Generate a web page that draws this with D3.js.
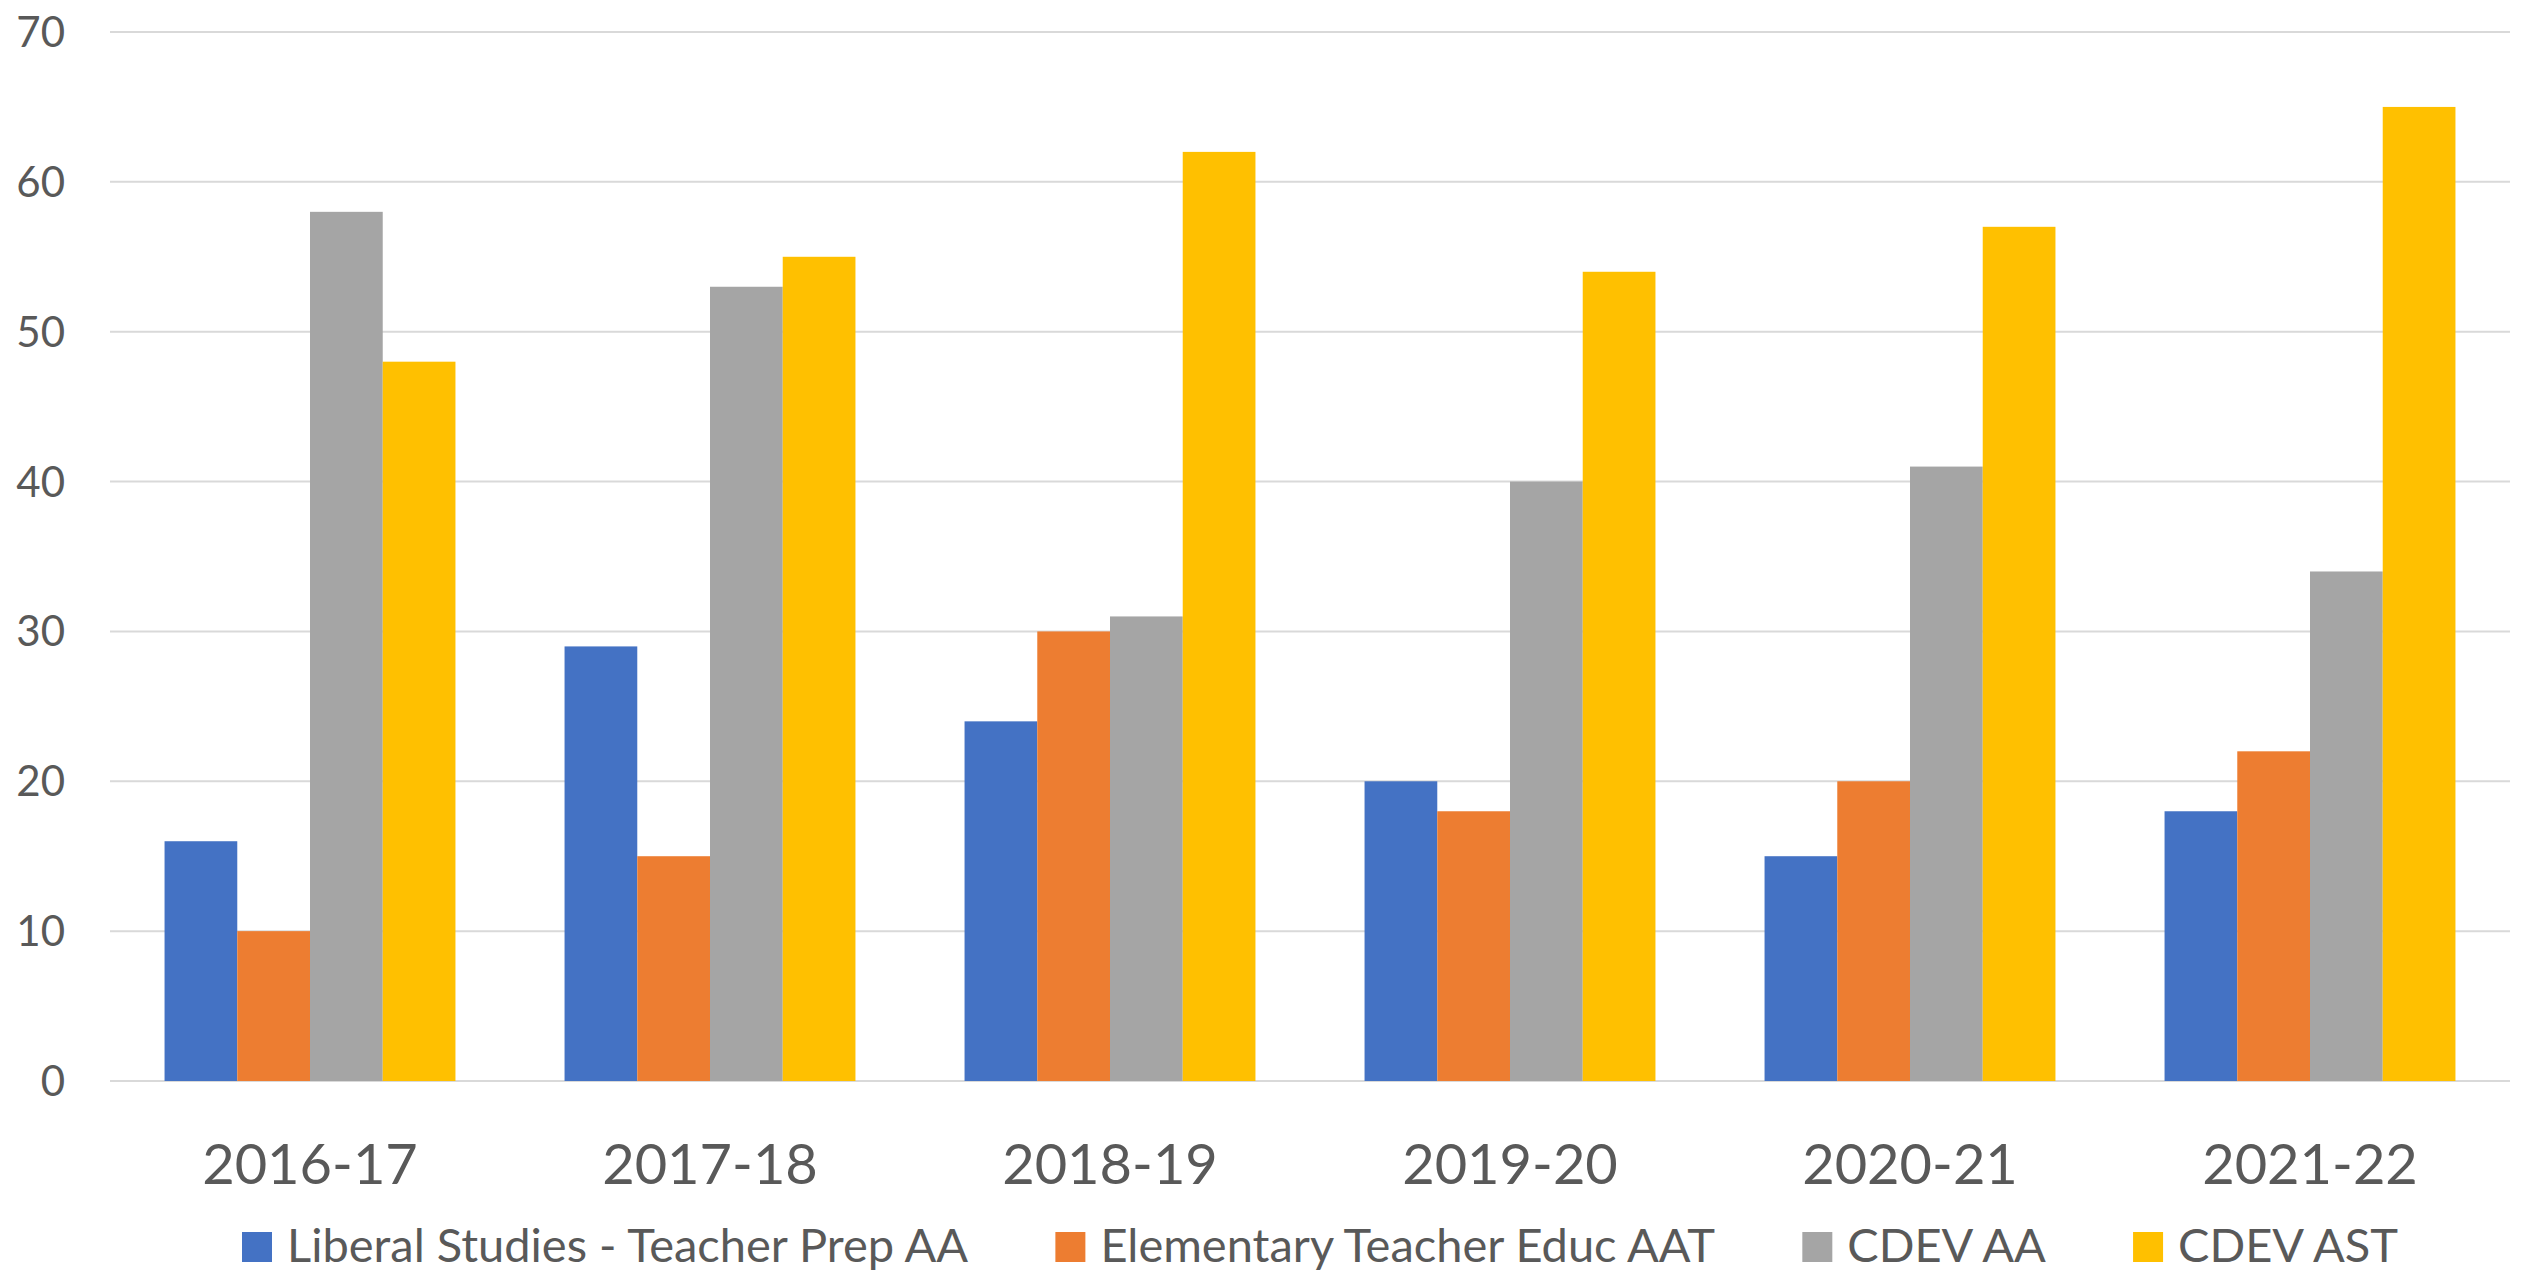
<!DOCTYPE html>
<html>
<head>
<meta charset="utf-8">
<script src="https://cdn.jsdelivr.net/npm/d3@7"></script>
<style>
  html, body { margin: 0; padding: 0; background: #ffffff; }
  svg { display: block; }
</style>
</head>
<body>
<svg id="chart" width="2526" height="1271"></svg>
<script>
const categories = ["2016-17", "2017-18", "2018-19", "2019-20", "2020-21", "2021-22"];
const seriesNames = ["Liberal Studies - Teacher Prep AA", "Elementary Teacher Educ AAT", "CDEV AA", "CDEV AST"];
const liberalStudies = [16, 29, 24, 20, 15, 18];
const elementaryTeacher = [10, 15, 30, 18, 20, 22];
const cdevAA = [58, 53, 31, 40, 41, 34];
const cdevAST = [48, 55, 62, 54, 57, 65];
const yTicks = [0, 10, 20, 30, 40, 50, 60, 70];
const colors = ["#4472C4", "#ED7D31", "#A5A5A5", "#FFC000"];

const seriesValues = [liberalStudies, elementaryTeacher, cdevAA, cdevAST];

const svg = d3.select("#chart");
const plot = { left: 110, right: 2510, top: 32, bottom: 1081 };
const FONT = "Lato, 'Open Sans', sans-serif";
const TXT = "#595959";

const x0 = d3.scaleBand().domain(categories).range([plot.left, plot.right]).padding(0);
const bw = x0.bandwidth();
const barW = bw / (seriesNames.length + 1.5);
const x1 = d3.scaleBand().domain(d3.range(seriesNames.length))
  .range([barW * 0.75, bw - barW * 0.75]).padding(0);
const y = d3.scaleLinear().domain([0, 70]).range([plot.bottom, plot.top]);

// gridlines
svg.append("g").selectAll("line").data(yTicks).join("line")
  .attr("x1", plot.left).attr("x2", plot.right)
  .attr("y1", d => y(d)).attr("y2", d => y(d))
  .attr("stroke", "#D9D9D9").attr("stroke-width", 2);

// y labels
svg.append("g").selectAll("text").data(yTicks).join("text")
  .attr("x", 65).attr("y", d => y(d) + 15)
  .attr("text-anchor", "end")
  .attr("font-family", FONT).attr("font-size", 42)
  .attr("fill", TXT)
  .text(d => d);

// bars
const groups = svg.append("g").selectAll("g").data(categories).join("g")
  .attr("transform", c => `translate(${x0(c)},0)`);
groups.selectAll("rect")
  .data((c, ci) => seriesValues.map((vals, si) => ({ si, v: vals[ci] })))
  .join("rect")
  .attr("x", d => x1(d.si))
  .attr("width", x1.bandwidth())
  .attr("y", d => y(d.v))
  .attr("height", d => y(0) - y(d.v))
  .attr("fill", d => colors[d.si]);

// x labels
svg.append("g").selectAll("text").data(categories).join("text")
  .attr("x", c => x0(c) + bw / 2).attr("y", 1184)
  .attr("text-anchor", "middle")
  .attr("font-family", FONT).attr("font-size", 56)
  .attr("fill", TXT)
  .text(c => c);

// legend
const leg = svg.append("g");
const items = leg.selectAll("g").data(seriesNames).join("g");
items.append("rect").attr("width", 30).attr("height", 30).attr("y", 1232)
  .attr("fill", (d, i) => colors[i]);
items.append("text").attr("y", 1262)
  .attr("font-family", FONT).attr("font-size", 47)
  .attr("fill", TXT).text(d => d);
let widths = [];
items.select("text").each(function () { widths.push(this.getComputedTextLength()); });
const sqW = 30, sqGap = 15;
const legLeft = 242, legRight = 2398;
const itemGap = (legRight - legLeft - d3.sum(widths) - seriesNames.length * (sqW + sqGap)) / (seriesNames.length - 1);
let cx = legLeft;
items.each(function (d, i) {
  const g = d3.select(this);
  g.select("rect").attr("x", cx);
  g.select("text").attr("x", cx + sqW + sqGap);
  cx += sqW + sqGap + widths[i] + itemGap;
});
</script>
</body>
</html>
